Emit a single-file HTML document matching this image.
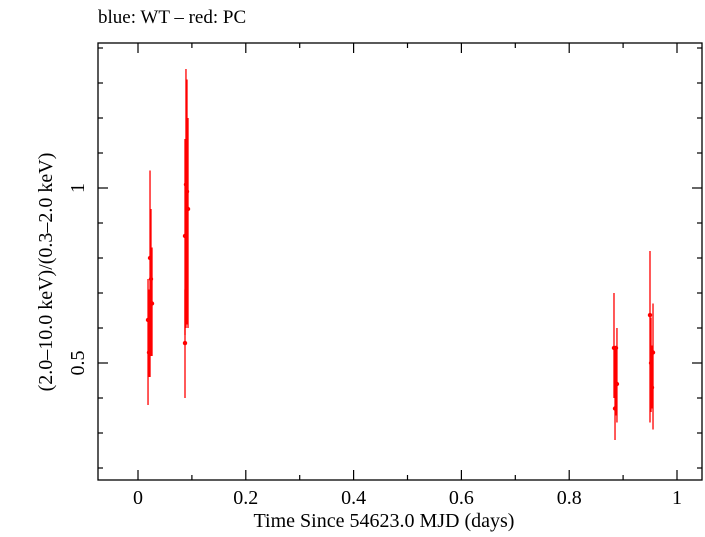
<!DOCTYPE html>
<html><head><meta charset="utf-8"><style>
body{margin:0;background:#fff}
svg text{font-family:"Liberation Serif",serif;fill:#000}
</style></head><body>
<svg id="chart" width="705" height="532" xmlns="http://www.w3.org/2000/svg">
<text x="98" y="23" font-size="19">blue: WT – red: PC</text>
<rect x="98" y="43" width="604" height="437" fill="none" stroke="#000" stroke-width="1.3"/>
<g id="axes"></g>
<g id="marks"></g>
<text x="384" y="527" font-size="20" text-anchor="middle">Time Since 54623.0 MJD (days)</text>
<text transform="translate(52,272) rotate(-90)" font-size="20" text-anchor="middle">(2.0–10.0 keV)/(0.3–2.0 keV)</text>
</svg>
<script>
const times=[0.0186,0.0223,0.0223,0.0241,0.026,0.0204,0.0872,0.0872,0.089,0.0909,0.0928,0.8831,0.885,0.8886,0.8868,0.9499,0.9518,0.9555,0.9536];
const ratios=[0.623,0.526,0.80,0.74,0.67,0.53,0.557,0.863,1.01,0.99,0.94,0.543,0.37,0.44,0.543,0.637,0.50,0.53,0.43];
const errLow=[0.38,0.46,0.53,0.52,0.52,0.46,0.40,0.58,0.60,0.61,0.60,0.40,0.28,0.33,0.35,0.33,0.36,0.31,0.37];
const errHigh=[0.74,0.57,1.05,0.94,0.83,0.71,0.71,1.14,1.34,1.31,1.20,0.70,0.54,0.60,0.54,0.82,0.63,0.67,0.55];
const xTicks=[0,0.2,0.4,0.6,0.8,1];
const xTickLabels=["0","0.2","0.4","0.6","0.8","1"];
const yTicks=[0.5,1];
const yTickLabels=["0.5","1"];
const X0=98,X1=702,Y0=43,Y1=480;
const xs=t=>138+t*539;
const ys=v=>188-(v-1)*350;
const NS="http://www.w3.org/2000/svg";
const axes=document.getElementById('axes'),marks=document.getElementById('marks');
function mk(tag,at,parent){const e=document.createElementNS(NS,tag);for(const k in at)e.setAttribute(k,at[k]);parent.appendChild(e);return e;}
for(let i=-1;i<=11;i++){const t=i/10;const x=xs(t);if(x<X0||x>X1)continue;const major=i%2===0;const L=major?10:5;
 let l=mk('line',{x1:x,x2:x,y1:Y1,y2:Y1-L,stroke:'#000','stroke-width':1.2},axes);
 
 
 l=mk('line',{x1:x,x2:x,y1:Y0,y2:Y0+L,stroke:'#000','stroke-width':1.2},axes);
 
 }
xTicks.forEach((t,i)=>{const e=mk('text',{x:xs(t),y:504,'font-size':20,'text-anchor':'middle'},axes);e.textContent=xTickLabels[i];
 
 });
for(let i=1;i<=15;i++){const v=i/10;const y=ys(v);if(y<Y0||y>Y1)continue;const major=(i===5||i===10);const L=major?10:5;
 let l=mk('line',{x1:X0,x2:X0+L,y1:y,y2:y,stroke:'#000','stroke-width':1.2},axes);
 
 
 l=mk('line',{x1:X1,x2:X1-L,y1:y,y2:y,stroke:'#000','stroke-width':1.2},axes);
 
 }
yTicks.forEach((v,i)=>{const e=mk('text',{'font-size':20,'text-anchor':'middle',transform:`translate(84,${ys(v)}) rotate(-90)`},axes);e.textContent=yTickLabels[i];
 
 });
times.forEach((t,i)=>{const x=xs(t);
 const l=mk('line',{x1:x,x2:x,y1:ys(errLow[i]),y2:ys(errHigh[i]),stroke:'#f00','stroke-width':1.3},marks);
 
 
 const c=mk('circle',{cx:x,cy:ys(ratios[i]),r:2.2,fill:'#f00'},marks);
 
 });
</script>
</body></html>
